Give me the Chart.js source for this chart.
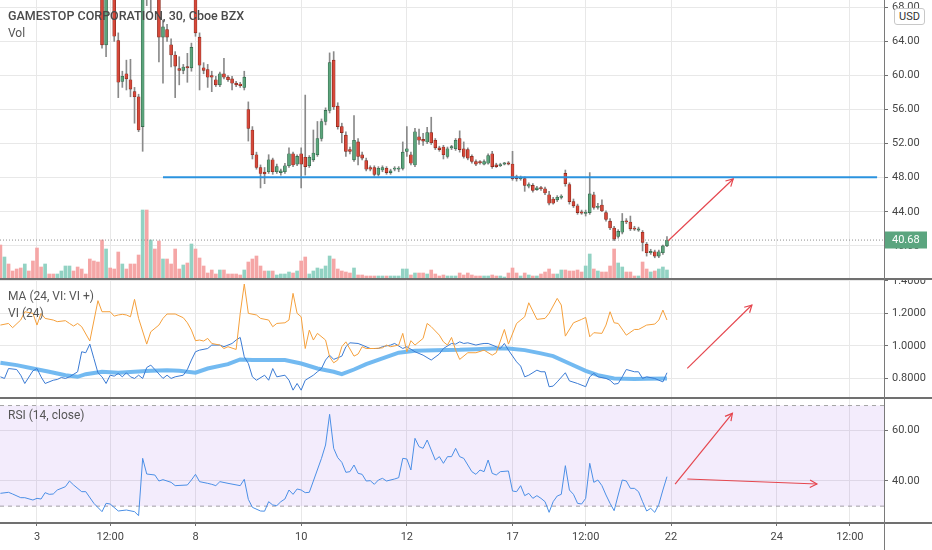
<!DOCTYPE html>
<html><head><meta charset="utf-8">
<script src="https://cdn.jsdelivr.net/npm/chart.js@4.4.1/dist/chart.umd.min.js"></script>
<style>
html,body{margin:0;padding:0;background:#fff;}
#wrap{position:relative;width:932px;height:550px;overflow:hidden;font-family:Roboto,"Liberation Sans",Arial,sans-serif;}
canvas{position:absolute;left:0;}
.lbl{position:absolute;left:8px;color:#555;font-size:12px;white-space:nowrap;line-height:16px;}
.hl{position:absolute;left:0;width:932px;background:#707070;}
#vaxis{position:absolute;left:884px;top:0;width:1px;height:550px;background:#7a7a7a;}
#usd{position:absolute;left:894px;top:8px;width:29px;height:15px;border:1px solid #c8c8c8;border-radius:3px;background:#fff;color:#333;font-size:11px;line-height:15px;text-align:center;}
</style></head>
<body><div id="wrap">
<canvas id="cMain" width="932" height="280" style="top:0px"></canvas>
<canvas id="cVi" width="932" height="118" style="top:280px"></canvas>
<canvas id="cRsi" width="932" height="152" style="top:398px"></canvas>
<div class="hl" style="top:278px;height:2px"></div>
<div class="hl" style="top:397px;height:2px"></div>
<div class="hl" style="top:522px;height:2px"></div>
<div id="vaxis"></div>
<div id="usd">USD</div>
<div class="lbl" style="top:8px;font-weight:500;color:#4a4a4a;font-size:12.5px">GAMESTOP CORPORATION, 30, Cboe BZX</div>
<div class="lbl" style="top:25px">Vol</div>
<div class="lbl" style="top:288px">MA (24, VI: VI +)</div>
<div class="lbl" style="top:305px">VI (24)</div>
<div class="lbl" style="top:407px">RSI (14, close)</div>
</div>
<script>
// ---------- DATA ----------
const firstBar = -9; // bar index of first 30-min candle (index 0 = Feb 3, 9:30)
const open = [
 104,98,102,97,94,91,88,92,92,
 112,102,97,100,98,96,98,99,101,103,99,95,93,
 91.2,84,78,73,63.6,72,70,64.1,59.3,60.2,59.5,58.1,57.5,
 54,80,72,78,70,64.5,65.4,63.6,62.4,60.8,60.6,61,60.9,
 72.4,64.5,60.9,60.7,60,59.5,58.9,60.2,59.8,59.6,59.1,59,58.6,
 56,53.6,50.7,49.2,48.65,48.7,50.1,48.7,48.6,48.7,49.4,50.8,49.6,
 50.8,50.4,49.4,50.1,50.7,52.6,54.6,55.9,61.8,56.4,54,53,51.3,
 50.1,52.2,50.7,50,49.2,49.2,48.4,48.9,49.1,48.6,49,49,49.1,
 51.1,50.7,49.5,52.8,52.5,52.2,53.3,52.4,51.5,51.6,50.5,51.5,51.4,
 52.6,51.4,51.3,50.5,49.9,49.85,49.6,49.7,50.8,49.5,49.4,49.6,49.7,
 49.6,48.1,47.9,47.9,47,47.1,46.6,46.8,46.7,46,45.5,45.4,45.7,
 48.5,47.2,45.2,44.7,44,43.8,43.9,46,44.5,44.8,43.9,42.9,42.1,
 41.1,41.6,42.9,42.8,42.1,41.85,41.6,40.2,39.2,39.3,38.8,39.2,40
];
const high = [
 108,104,103,98,95,92,93,93,93,
 113.4,104,101,101,99,99,100,102,104,104,100,96,94,
 91.5,85,79,74,75,73.5,71,65,60.5,61.8,61.9,58.6,57.8,
 78,95,85,80,71,66.5,66,64.3,62.8,62.2,61.3,62.6,63.8,
 72.7,65,61.5,61.3,60.5,59.9,60.4,62,60,59.9,59.3,59.2,60.5,
 56.9,54,51,49.5,49.2,50.7,50.3,49.6,49,49.7,51.5,51,50.7,
 51.5,57.7,50.6,53.6,54.6,54.9,56.2,62.65,62.8,56.8,54.4,53.4,51.6,
 55.3,52.6,51,50.3,49.4,49.4,49.3,49.4,49.3,49,49.3,49.3,52.2,
 54,51,53.8,53.7,53.2,53.9,55.1,52.6,51.7,51.8,51.6,51.8,52.6,
 53.5,52.2,51.5,50.7,50.1,50,50.1,50.8,51.1,49.7,49.7,49.8,49.9,
 51.1,48.3,48.2,48.1,47.4,47.3,47,47,46.9,46.4,45.7,45.9,46,
 48.9,47.4,45.5,44.9,44.2,44.2,48.6,46.3,45,45.4,44.1,43.2,42.3,
 41.9,43.8,43.2,43.5,42.3,42.2,41.8,40.4,39.6,39.5,39.5,40.1,41.1
];
const low = [
 96,95,96,93,90,87,87,88,88,
 100,96,95,97,95,95,96,97,100,98,94,91,90,
 82,77,72,63.2,62.2,69.5,64,57.4,58.6,58.3,57.5,54.4,53.4,
 51.1,68.2,67.6,69,61.6,59.1,64,61,57.4,58.9,60.2,59.2,60.5,
 64.6,58.3,60.2,58.6,58.1,58.7,58.7,59.6,59.3,58.3,58.7,58.6,58.3,
 52.3,50.2,49,46.8,47.3,48.5,48.4,48.5,48.3,48.5,49.2,49.3,49.4,
 46.8,48.3,49.2,49.9,50.5,52.3,54.2,55.6,56,53.7,52.1,50.5,50.8,
 49.9,49.5,50.1,48.8,48.8,48.2,48.2,48.7,48.4,48.4,48.8,48.7,48.9,
 50.5,49.5,49.3,51.9,51.8,52,51.9,51.3,51.1,50.2,50.3,51.3,51.2,
 51,50.3,50.1,49.7,49.4,49.6,49.5,49.6,49.1,49.2,49.3,49.5,49.5,
 47.7,47.6,47.7,46.4,46.8,46.3,46.5,46.5,46,44.8,44.9,45.2,45.5,
 47,44.9,44.5,43.7,43.7,43.5,43.7,44.3,44.3,44,42.9,41.9,40.6,
 40.9,41.4,42.6,41.8,41.8,41.7,39.4,38.8,39,38.6,38.6,39,39.9
];
const close = [
 98,102,97,94,91,88,92,89,90,
 102,97,100,98,96,98,99,101,103,99,95,93,92.4,
 84,78,73,63.6,71,70,64.6,59.2,59.9,59.6,58.4,57.5,53.6,
 72,72,78,70,64.5,65.7,64.5,62.4,61.1,60.6,61,60.9,63.3,
 65,61.2,60.6,59.8,59.8,58.9,60.2,59.8,59.5,59.1,58.9,58.8,59.8,
 53.8,50.7,49.2,48.5,48.45,50.1,48.7,49.3,48.8,49.4,50.8,49.5,50.5,
 49.6,49.3,50.4,50.9,52.6,54.6,55.9,61.5,56.3,54,53.3,51.1,51.1,
 52.4,50.5,50.3,49,49,48.4,49.1,49.2,48.6,48.8,49.1,49.1,51,
 51.4,49.7,53.4,52.4,52.3,53.3,52.1,51.5,51.3,50.7,51.4,51.6,52.4,
 51.3,50.5,50.3,49.9,49.6,49.75,49.9,50.6,49.3,49.3,49.55,49.7,49.6,
 47.9,47.9,48,47.1,47.2,46.5,46.8,46.7,46.2,45,45,45.7,45.85,
 47.3,45.2,44.7,43.9,43.85,43.95,46.1,44.5,44.65,44.1,43.1,42.1,40.8,
 41.7,42.9,42.8,42,41.95,41.95,40.4,39.2,39.35,38.8,39.3,40,40.68
];
const volume = [
 34,22,15,8,10,11,15,8,18,
 31,12,15,5,5,5,8,13,13,8,12,10,5,
 20,18,17,39,30,11,10,27,15,10,15,15,24,
 69,69,39,30,38,20,20,15,30,10,14,16,35,
 30,21,13,6,9,5,9,9,5,5,5,4,9,
 17,20,23,13,8,8,8,4,5,5,7,6,8,
 18,22,5,8,11,10,13,23,20,10,8,7,6,
 11,4,4,3,3,3,3,3,3,3,3,3,10,
 10,4,6,6,6,5,9,5,3,4,3,3,3,
 6,4,6,4,3,3,3,3,4,3,3,2,6,
 11,6,3,6,4,3,3,5,7,10,5,5,9,
 9,8,8,9,7,13,25,10,8,7,7,13,30,
 16,12,7,7,3,3,17,10,7,8,10,12,9
];
// Vortex indicator lines: [bar index, value]
const viPlus = [[-9,1.128],[-7,1.138],[-6,1.112],[-4,1.159],[-3,1.210],[-1,1.200],[0,1.128],[1,1.200],[2,1.169],[4,1.159],[5,1.149],[7,1.155],[8,1.138],[9,1.122],[10,1.138],[11,1.118],[13,1.030],[15,1.278],[16,1.210],[18,1.210],[19,1.183],[20,1.190],[21,1.194],[22,1.190],[23,1.179],[24,1.286],[25,1.169],[27,1.011],[28,1.087],[30,1.128],[31,1.169],[32,1.196],[34,1.196],[36,1.173],[37,1.142],[38,1.097],[39,1.032],[40,1.036],[41,1.030],[42,1.046],[43,1.015],[45,1.005],[46,0.984],[47,0.995],[49,0.978],[50,1.200],[51,1.380],[52,1.200],[54,1.190],[55,1.169],[57,1.159],[58,1.118],[59,1.138],[61,1.142],[62,1.159],[63,1.323],[64,1.200],[65,1.179],[66,0.984],[67,1.097],[68,1.036],[69,1.077],[71,1.036],[72,0.933],[73,0.896],[74,0.913],[75,0.995],[76,1.025],[78,0.937],[79,0.950],[80,0.995],[81,0.984],[83,0.984],[85,0.988],[86,1.005],[87,0.995],[89,1.005],[90,1.077],[91,0.964],[92,1.032],[93,1.005],[95,1.046],[96,1.138],[97,1.118],[99,1.066],[100,1.025],[101,1.005],[102,1.052],[103,0.974],[104,0.917],[106,0.958],[108,0.958],[110,0.974],[112,0.943],[113,0.958],[115,1.101],[116,1.011],[118,1.138],[120,1.179],[121,1.265],[123,1.163],[125,1.169],[126,1.200],[128,1.292],[129,1.251],[130,1.060],[132,1.142],[134,1.163],[135,1.175],[136,1.056],[137,1.081],[139,1.077],[140,1.128],[141,1.210],[142,1.142],[143,1.138],[145,1.066],[147,1.101],[148,1.101],[150,1.128],[152,1.134],[153,1.159],[154,1.220],[155,1.159]];
const viMinus = [[-9,0.810],[-8,0.800],[-7,0.861],[-5,0.855],[-4,0.820],[-3,0.769],[-1,0.847],[0,0.861],[1,0.810],[2,0.769],[4,0.789],[5,0.794],[6,0.806],[7,0.800],[8,0.810],[10,0.841],[11,0.964],[12,0.958],[13,1.011],[14,0.923],[15,0.835],[16,0.810],[17,0.769],[18,0.820],[19,0.814],[20,0.831],[21,0.810],[22,0.835],[23,0.810],[24,0.800],[25,0.820],[26,0.800],[27,0.867],[28,0.882],[29,0.855],[31,0.800],[32,0.820],[33,0.800],[34,0.810],[36,0.820],[37,0.855],[38,0.913],[39,0.964],[40,0.974],[42,0.984],[43,1.005],[45,1.005],[46,0.995],[48,1.015],[49,1.036],[50,1.052],[51,0.933],[52,0.892],[53,0.810],[54,0.789],[56,0.820],[57,0.789],[58,0.861],[59,0.810],[61,0.820],[62,0.789],[63,0.728],[64,0.769],[65,0.728],[66,0.789],[68,0.820],[69,0.841],[70,0.861],[71,0.913],[72,0.943],[73,0.917],[75,0.937],[76,0.995],[77,1.019],[79,1.015],[80,1.005],[82,0.984],[84,0.984],[85,0.995],[87,1.005],[88,1.015],[90,0.984],[91,0.995],[93,0.964],[95,0.943],[97,0.913],[99,0.950],[100,0.984],[102,1.015],[103,1.011],[104,1.025],[105,1.015],[106,1.019],[108,1.005],[109,1.011],[110,1.015],[111,1.015],[113,0.995],[114,0.984],[115,1.015],[116,0.974],[118,0.902],[119,0.876],[120,0.810],[121,0.820],[123,0.851],[124,0.841],[125,0.841],[126,0.749],[127,0.753],[128,0.779],[130,0.835],[131,0.785],[133,0.769],[135,0.749],[136,0.810],[137,0.831],[138,0.810],[140,0.800],[141,0.789],[142,0.765],[143,0.769],[144,0.810],[145,0.855],[147,0.841],[148,0.841],[149,0.800],[150,0.810],[152,0.800],[153,0.789],[154,0.779],[155,0.835]];
const viMA = [[-9,0.896],[-5,0.882],[-1,0.861],[3,0.841],[7,0.820],[10,0.810],[12,0.826],[16,0.841],[20,0.835],[24,0.841],[28,0.847],[32,0.851],[35,0.847],[39,0.835],[42,0.861],[47,0.888],[50,0.917],[53,0.913],[57,0.913],[61,0.913],[65,0.892],[69,0.861],[73,0.841],[75,0.826],[78,0.855],[81,0.888],[85,0.923],[89,0.958],[93,0.970],[98,0.974],[104,0.976],[108,0.980],[112,0.984],[116,0.984],[120,0.974],[124,0.954],[127,0.937],[131,0.892],[135,0.847],[138,0.820],[142,0.800],[147,0.796],[150,0.798],[155,0.800]];
const rsi = [[-9,35.10],[-7,35.50],[-6,34.83],[-4,33.37],[-3,33.37],[-1,32.44],[0,33.11],[1,32.84],[2,35.36],[3,34.70],[4,34.83],[5,36.42],[7,37.75],[8,40.00],[9,38.41],[11,35.76],[12,35.76],[14,31.12],[16,27.81],[17,31.12],[18,30.86],[20,28.07],[22,28.47],[24,27.81],[25,26.22],[26,49.01],[27,42.78],[29,42.39],[30,40.00],[31,40.53],[33,39.47],[34,38.15],[37,38.41],[38,40.40],[39,42.65],[40,39.74],[42,39.07],[43,38.68],[44,38.15],[45,39.74],[47,39.07],[50,38.15],[51,40.66],[52,32.71],[53,29.53],[55,28.07],[56,28.00],[57,31.78],[58,30.46],[59,30.20],[60,31.78],[61,32.84],[62,36.42],[63,34.70],[64,36.82],[65,36.42],[66,35.36],[67,35.50],[68,40.00],[70,49.01],[71,54.31],[72,66.51],[73,52.99],[74,49.28],[75,47.42],[76,43.45],[77,43.71],[78,46.36],[79,43.05],[80,42.65],[81,40.00],[82,40.13],[83,38.68],[84,40.40],[85,41.06],[86,40.00],[88,40.80],[89,41.33],[90,49.01],[91,48.75],[92,44.37],[93,56.97],[94,53.65],[95,52.99],[96,56.30],[97,52.33],[98,48.35],[99,49.68],[100,47.03],[101,49.68],[102,49.68],[103,52.99],[104,49.68],[105,49.01],[106,46.36],[107,43.71],[108,42.65],[109,44.37],[110,43.71],[111,48.35],[112,43.05],[113,42.39],[114,43.71],[116,43.98],[117,36.03],[118,35.76],[119,38.15],[120,34.17],[121,35.10],[122,33.11],[123,34.17],[124,33.11],[125,31.78],[126,27.54],[127,31.78],[128,34.04],[129,34.70],[130,46.10],[131,36.42],[132,34.70],[133,31.12],[134,30.86],[135,33.11],[136,47.03],[137,39.47],[138,40.40],[139,38.15],[140,34.43],[141,31.12],[142,28.20],[143,34.43],[144,40.40],[145,40.00],[146,37.08],[147,37.08],[148,35.76],[149,31.78],[150,28.07],[151,29.13],[152,27.54],[153,30.72],[154,36.42],[155,41.72]];
// drawings
const supportLine = [[31,48.05],[206.7,48.05]];
const priceArrow = [[155.3,40.6],[171.3,47.85]];
const viArrow = [[160,0.862],[175.9,1.251]];
const rsiArrowUp = [[157,38.8],[171.1,66.9]];
const rsiArrowFlat = [[160,40.8],[191.9,38.8]];
const rsiBand = [70, 30];
// axes
const xTickIdx = [0,18,39,65,91,117,135,156,182,200];
const xTickLabels = ['3','12:00','8','10','12','17','12:00','22','24','12:00'];
const priceTicks = [40,44,48,52,56,60,64,68];
const viTicks = [0.8,1.0,1.2,1.4];
const rsiTicks = [40,60];
const X_MIN = -9.1, X_MAX = 208.4;

// ---------- CHARTS ----------
const GRID = '#e8e8e8', FONT = 'Roboto', TXT = '#454545';
Chart.defaults.font.family = FONT;
const lastClose = close[close.length-1];
const idx = open.map((_, i) => firstBar + i);
const up = close.map((c, i) => c >= open[i]);

const arrowPlugin = {
  id: 'arrowHeads',
  afterDatasetsDraw(chart) {
    const ctx = chart.ctx;
    chart.data.datasets.forEach((ds, i) => {
      if (!ds.arrowHead) return;
      const pts = chart.getDatasetMeta(i).data;
      const a = pts[pts.length-2], b = pts[pts.length-1];
      const ang = Math.atan2(b.y - a.y, b.x - a.x), L = 8, s = 0.5;
      ctx.save();
      ctx.strokeStyle = ds.borderColor; ctx.lineWidth = ds.borderWidth;
      ctx.beginPath();
      ctx.moveTo(b.x - L*Math.cos(ang - s), b.y - L*Math.sin(ang - s));
      ctx.lineTo(b.x, b.y);
      ctx.lineTo(b.x - L*Math.cos(ang + s), b.y - L*Math.sin(ang + s));
      ctx.stroke();
      ctx.restore();
    });
  }
};
const priceLabelPlugin = {
  id: 'priceLabel',
  afterDraw(chart) {
    const ctx = chart.ctx, y = chart.scales.y.getPixelForValue(lastClose);
    const x0 = chart.chartArea.right + 1;
    ctx.save();
    ctx.fillStyle = '#5ba57f';
    ctx.fillRect(x0, Math.round(y) - 8.5, 42, 17);
    ctx.fillStyle = '#ffffff';
    ctx.font = '11px ' + FONT;
    ctx.textBaseline = 'middle';
    ctx.fillText(lastClose.toFixed(2), x0 + 7, Math.round(y) + 0.5);
    ctx.restore();
  }
};

function xAxis(show) {
  return {
    type: 'linear', min: X_MIN, max: X_MAX, offset: false,
    afterBuildTicks: ax => { ax.ticks = xTickIdx.map(v => ({value: v})); },
    afterFit: ax => { ax.height = show ? 28 : 0; ax.paddingLeft = 0; ax.paddingRight = 0; },
    grid: { color: GRID, offset: false, drawTicks: show, tickLength: 4, tickColor: '#707070' },
    border: { display: false },
    ticks: { display: show, autoSkip: false, maxRotation: 0, padding: 5, color: TXT,
      font: {family: FONT, size: 11}, callback: (v, i) => xTickLabels[i] }
  };
}
function yAxis(min, max, ticks, dec) {
  return {
    type: 'linear', position: 'right', min, max,
    afterBuildTicks: ax => { ax.ticks = ticks.map(v => ({value: v})); },
    afterFit: ax => { ax.width = 48; ax.paddingTop = 0; ax.paddingBottom = 0; },
    grid: { color: GRID, drawTicks: true, tickLength: 4, tickColor: '#707070' },
    border: { display: false },
    ticks: { padding: 4, color: TXT, font: {family: FONT, size: 11}, callback: v => v.toFixed(dec) }
  };
}
function opts(padding, scales) {
  return { responsive: false, devicePixelRatio: 1, animation: false, events: [],
    layout: { padding }, plugins: { legend: {display: false}, tooltip: {enabled: false} }, scales };
}
function line(pairs, color, width, extra) {
  return Object.assign({ type: 'line', data: pairs.map(p => ({x: p[0], y: p[1]})),
    borderColor: color, borderWidth: width, pointRadius: 0, tension: 0, fill: false }, extra || {});
}

// main price pane
new Chart(document.getElementById('cMain'), {
  type: 'bar',
  data: { datasets: [
    line([[X_MIN, lastClose], [X_MAX, lastClose]], '#8f8f8f', 1, {borderDash: [1, 2], order: 1}),
    line(supportLine, '#2b93df', 2, {order: 0}),
    line(priceArrow, '#e5474f', 1.2, {order: 0, arrowHead: true}),
    { type: 'bar', data: idx.map((x, i) => ({x, y: [open[i], close[i]]})),
      backgroundColor: up.map(u => u ? '#5ba47b' : '#d6483a'),
      borderColor: up.map(u => u ? '#2f5f45' : '#7d2519'),
      borderWidth: 0.6, borderSkipped: false, barThickness: 3, minBarLength: 1.2,
      grouped: false, yAxisID: 'y', order: 2 },
    { type: 'bar', data: idx.map((x, i) => ({x, y: [low[i], high[i]]})),
      backgroundColor: '#8a8a8a', barThickness: 1, grouped: false, yAxisID: 'y', order: 3 },
    { type: 'bar', data: idx.map((x, i) => ({x, y: volume[i]})),
      backgroundColor: up.map(u => u ? '#92d2c3' : '#f5a6a6'),
      barThickness: 3, grouped: false, yAxisID: 'yv', order: 4 }
  ]},
  options: opts({top: 0, bottom: 1, left: 0, right: 0}, {
    x: xAxis(false),
    y: yAxis(36.11, 68.86, priceTicks, 2),
    yv: { type: 'linear', display: false, min: 0, max: 279 }
  }),
  plugins: [arrowPlugin, priceLabelPlugin]
});

// vortex pane
new Chart(document.getElementById('cVi'), {
  type: 'line',
  data: { datasets: [
    line(viMA, 'rgba(100,178,240,0.9)', 4, {order: 3}),
    line(viPlus, '#f5a03c', 1, {order: 1}),
    line(viMinus, '#3b7bd4', 1, {order: 2}),
    line(viArrow, '#e5474f', 1.2, {order: 0, arrowHead: true})
  ]},
  options: opts({top: 1, bottom: 1, left: 0, right: 0}, {
    x: xAxis(false),
    y: yAxis(0.686, 1.3988, viTicks, 4)
  }),
  plugins: [arrowPlugin]
});

// RSI pane
new Chart(document.getElementById('cRsi'), {
  type: 'line',
  data: { datasets: [
    line([[X_MIN, rsiBand[0]], [X_MAX, rsiBand[0]]], '#a3a3a3', 1,
      {borderDash: [4, 4], fill: {value: rsiBand[1]}, backgroundColor: 'rgba(150,80,225,0.11)', order: 3}),
    line([[X_MIN, rsiBand[1]], [X_MAX, rsiBand[1]]], '#a3a3a3', 1, {borderDash: [4, 4], order: 3}),
    line(rsi, '#4b8fe6', 1, {order: 1}),
    line(rsiArrowUp, '#e5474f', 1.2, {order: 0, arrowHead: true}),
    line(rsiArrowFlat, '#e5474f', 1.2, {order: 0, arrowHead: true})
  ]},
  options: opts({top: 1, bottom: 0, left: 0, right: 0}, {
    x: xAxis(true),
    y: yAxis(23.7, 72.6, rsiTicks, 2)
  }),
  plugins: [arrowPlugin]
});
</script>
</body></html>
